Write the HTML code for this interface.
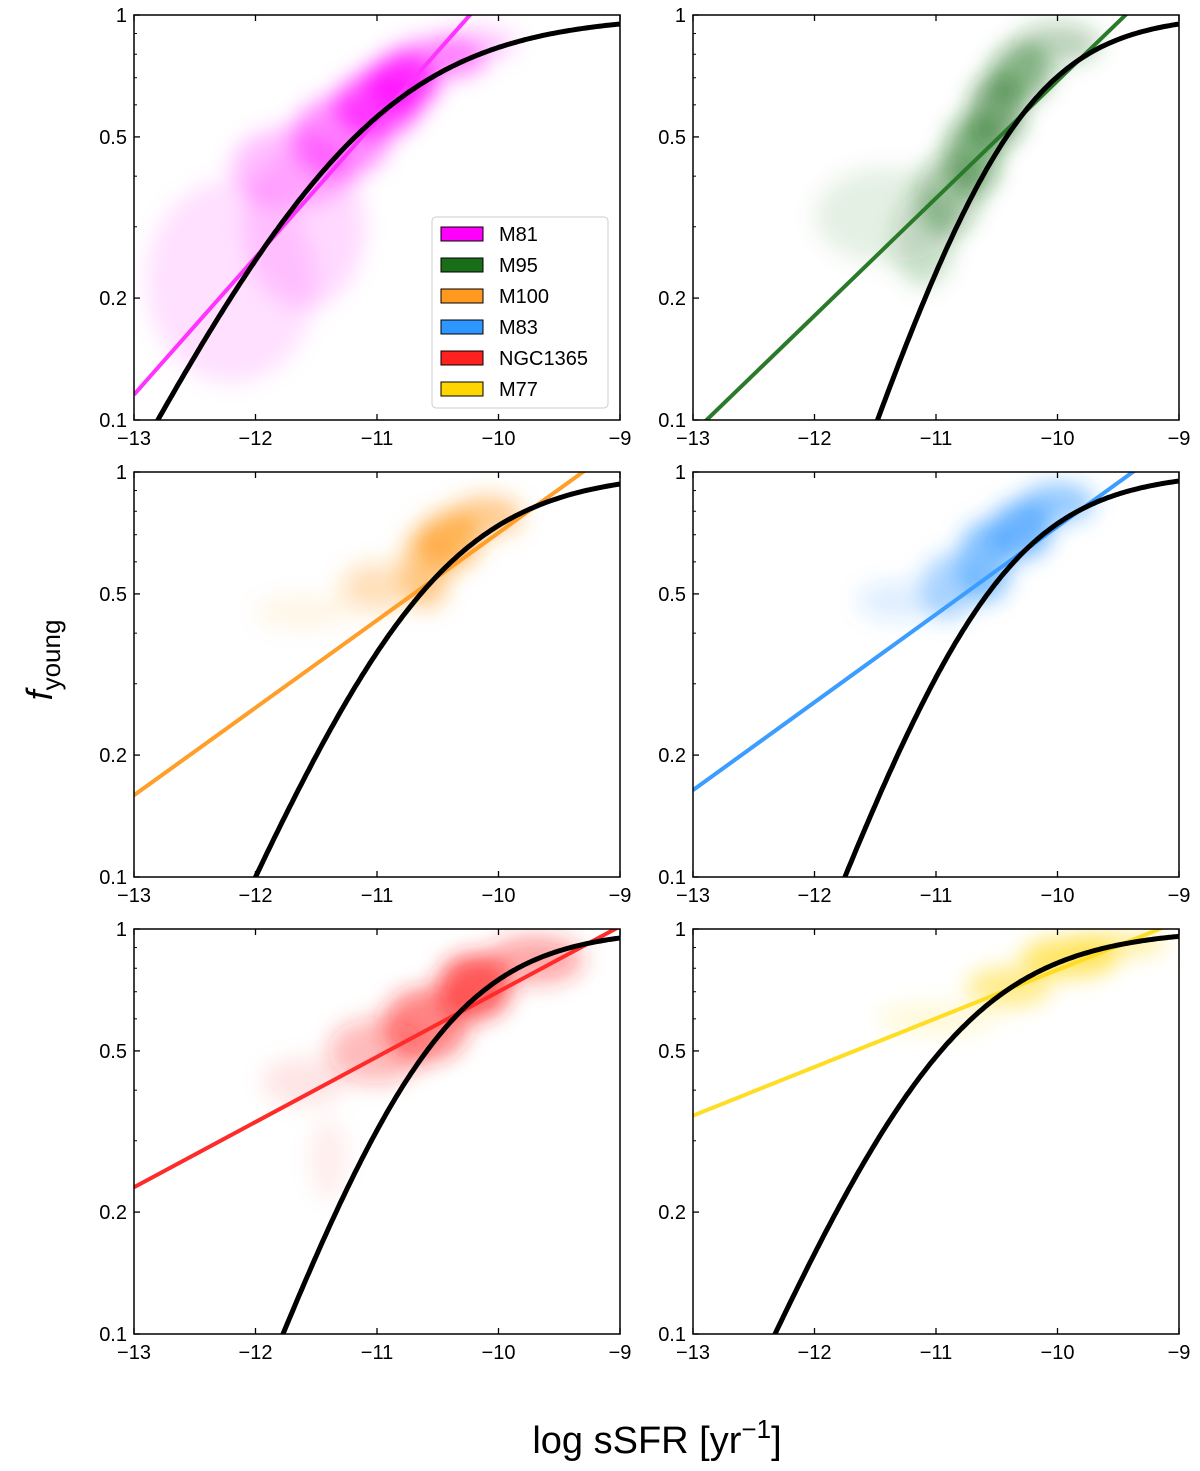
<!DOCTYPE html>
<html><head><meta charset="utf-8"><style>
html,body{margin:0;background:#fff;overflow:hidden;width:1200px;height:1471px;}
svg{display:block;}
svg text{font-family:"Liberation Sans","DejaVu Sans",sans-serif;}
</style></head><body>
<svg id="fig" width="1200" height="1471" viewBox="0 0 1200 1471" xmlns="http://www.w3.org/2000/svg">
<defs>
<filter id="blur" x="-50%" y="-50%" width="200%" height="200%"><feGaussianBlur stdDeviation="11"/></filter>
</defs>
<g id="panels"></g>
<text transform="translate(52,660) rotate(-90)" text-anchor="middle" font-size="36"><tspan font-style="italic">f</tspan><tspan font-size="26" dy="8">young</tspan></text>
<text x="657" y="1453" text-anchor="middle" font-size="38">log sSFR [yr<tspan font-size="26" dy="-15">−1</tspan><tspan dy="15">]</tspan></text>
</svg>
<script>
const galaxies=["M81","M95","M100","M83","NGC1365","M77"];
const colors=["#ff00ff","#1a6e1a","#ff9a1f","#2e96ff","#ff2020","#ffd500"];
const lineColors=["#ff33ff","#2a7a2a","#ff9f2a","#3b9dff","#ff2a2a","#ffdd22"];
const fitSlope=[0.339,0.29,0.216,0.217,0.161,0.12];
const fitX1=[-10.235,-9.44,-9.305,-9.38,-9.04,-9.16];
const modelCenter=[-11.18,-10.42,-10.64,-10.575,-10.59,-10.96];
const modelSteep=[1.353,2.07,1.616,1.87,1.856,1.61];
const xTicks=[-13,-12,-11,-10,-9];
const yTicks=[0.1,0.2,0.5,1];
const yTickLabels=["0.1","0.2","0.5","1"];
// cloud blobs: [x, f, rx(dex), ry(log f), opacity]
const clouds=[
 [[-12.2,0.22,0.7,0.25,0.12],[-11.6,0.3,0.5,0.2,0.15],[-11.7,0.42,0.5,0.1,0.25],[-11.3,0.5,0.4,0.1,0.45],[-11.0,0.6,0.35,0.08,0.65],[-10.8,0.68,0.3,0.07,0.75],[-10.5,0.78,0.4,0.05,0.45],[-10.2,0.85,0.35,0.04,0.2]],
 [[-11.4,0.32,0.6,0.12,0.1],[-11.1,0.28,0.25,0.12,0.2],[-10.9,0.36,0.25,0.1,0.35],[-10.7,0.45,0.22,0.1,0.55],[-10.5,0.58,0.22,0.09,0.6],[-10.3,0.72,0.25,0.07,0.5],[-10.0,0.85,0.35,0.05,0.3]],
 [[-11.6,0.45,0.4,0.04,0.1],[-11.0,0.52,0.3,0.06,0.3],[-10.6,0.58,0.2,0.1,0.55],[-10.4,0.68,0.25,0.07,0.7],[-10.1,0.78,0.3,0.05,0.5]],
 [[-11.3,0.48,0.35,0.05,0.15],[-10.9,0.52,0.22,0.08,0.4],[-10.6,0.6,0.22,0.1,0.6],[-10.3,0.72,0.25,0.07,0.7],[-10.0,0.84,0.3,0.05,0.5]],
 [[-11.6,0.42,0.35,0.06,0.1],[-11.0,0.5,0.4,0.08,0.3],[-10.6,0.58,0.35,0.09,0.55],[-10.2,0.72,0.3,0.08,0.75],[-9.7,0.84,0.4,0.06,0.4],[-11.4,0.27,0.15,0.1,0.07]],
 [[-11.0,0.6,0.5,0.04,0.15],[-10.4,0.72,0.35,0.05,0.45],[-9.9,0.85,0.4,0.05,0.6],[-9.5,0.92,0.4,0.03,0.4]]
];
const colX=[134,693],rowY=[15,472,929],W=486,H=405;
const NS="http://www.w3.org/2000/svg";
const root=document.getElementById('panels');
function mk(t,a,p){const e=document.createElementNS(NS,t);for(const k in a)e.setAttribute(k,a[k]);(p||root).appendChild(e);return e;}
galaxies.forEach((g,i)=>{
 const x0=colX[i%2],y0=rowY[Math.floor(i/2)];
 const sx=v=>x0+(v+13)/4*W;
 const sy=f=>y0-Math.log10(f)*H;
 const grp=mk('g',{});
 
 
 const cid='clip'+i;
 const cp=mk('clipPath',{id:cid},grp);mk('rect',{x:x0,y:y0,width:W,height:H},cp);
 const inner=mk('g',{'clip-path':'url(#'+cid+')'},grp);
 const cg=mk('g',{filter:'url(#blur)'},inner);
 clouds[i].forEach(b=>{
  const e=mk('ellipse',{cx:sx(b[0]),cy:sy(b[1]),rx:b[2]/4*W,ry:b[3]*H,fill:colors[i],opacity:b[4]},cg);
  
  
 });
 const lf=x=>fitSlope[i]*(x-fitX1[i]);
 const fl=mk('line',{x1:sx(-13),y1:y0-lf(-13)*H,x2:sx(-9),y2:y0-lf(-9)*H,stroke:lineColors[i],'stroke-width':4},inner);
 
 
 let d='';
 for(let k=0;k<=200;k++){const x=-13+4*k/200;const f=1/(1+Math.exp(-modelSteep[i]*(x-modelCenter[i])));d+=(k?'L':'M')+sx(x).toFixed(1)+','+sy(f).toFixed(1);}
 const mc=mk('path',{d:d,fill:'none',stroke:'#000','stroke-width':5},inner);
 
 
 mk('rect',{x:x0,y:y0,width:W,height:H,fill:'none',stroke:'#000','stroke-width':1.5},grp);
 xTicks.forEach(t=>{
  const px=sx(t);
  mk('line',{x1:px,y1:y0+H,x2:px,y2:y0+H-6,stroke:'#000','stroke-width':1.3},grp);
  mk('line',{x1:px,y1:y0,x2:px,y2:y0+6,stroke:'#000','stroke-width':1.3},grp);
  const tx=mk('text',{x:px,y:y0+H+25,'text-anchor':'middle','font-size':20},grp);
  tx.textContent=(t<0?'−':'')+Math.abs(t);
  
  
 });
 yTicks.forEach((t,j)=>{
  const py=sy(t);
  mk('line',{x1:x0,y1:py,x2:x0+6,y2:py,stroke:'#000','stroke-width':1.3},grp);
  const tx=mk('text',{x:x0-7,y:py+7,'text-anchor':'end','font-size':20},grp);
  tx.textContent=yTickLabels[j];
  
  
 });
 [0.3,0.4,0.6,0.7,0.8,0.9].forEach(t=>{mk('line',{x1:x0,y1:sy(t),x2:x0+3,y2:sy(t),stroke:'#000','stroke-width':1},grp);});
});
const lg=mk('g',{});


mk('rect',{x:432,y:217,width:176,height:191,rx:4,fill:'#fff',stroke:'#ccc','stroke-width':1},lg);
galaxies.forEach((g,i)=>{
 const y=234+i*31;
 const r=mk('rect',{x:441,y:y-7,width:42,height:14,fill:colors[i],stroke:'#000','stroke-width':1},lg);
 
 
 const t=mk('text',{x:499,y:y+7,'font-size':20},lg);
 t.textContent=g;
 
 
});
</script>
</body></html>
